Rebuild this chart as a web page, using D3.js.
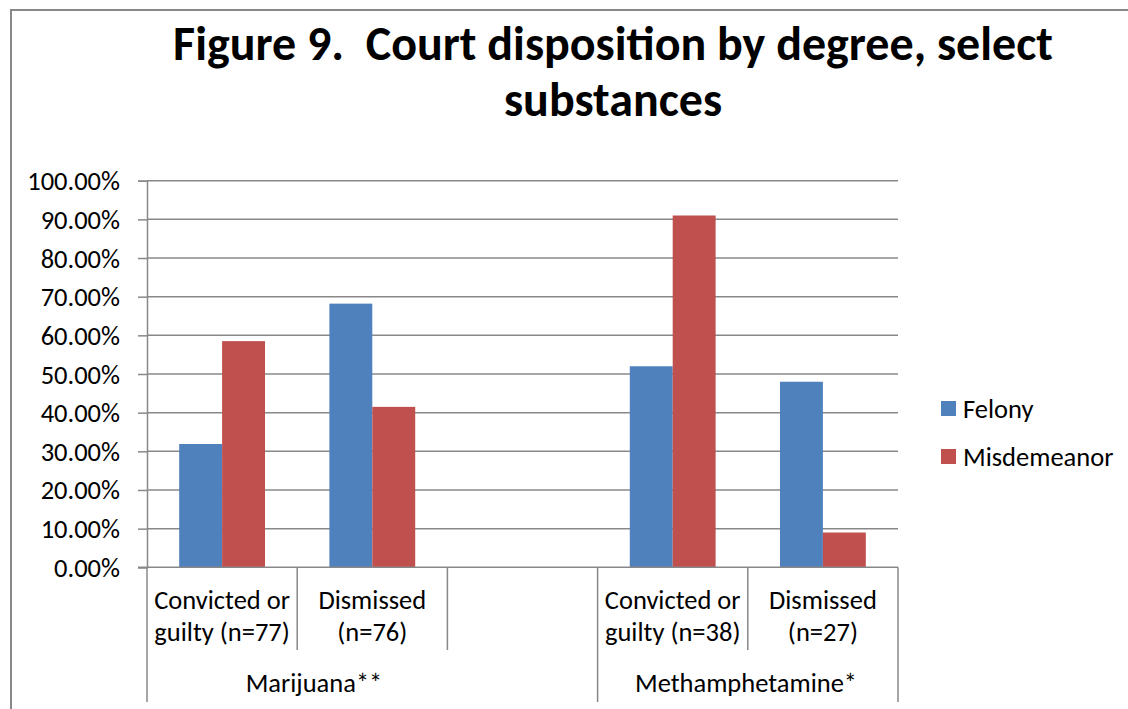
<!DOCTYPE html>
<html>
<head>
<meta charset="utf-8">
<script src="https://cdn.jsdelivr.net/npm/d3@7"></script>
<style>
  body { margin: 0; background: #fff; }
  svg text { font-family: Carlito, Calibri, Lato, sans-serif; fill: #000; white-space: pre; }
</style>
</head>
<body>
<svg id="chart" width="1128" height="709"></svg>
<script>
// data
var titleLines = ["Figure 9.  Court disposition by degree, select", "substances"];
var categories = ["mar_conv", "mar_dis", "gap", "meth_conv", "meth_dis"];
var categoryLabels = [["Convicted or", "guilty (n=77)"], ["Dismissed", "(n=76)"], ["", ""], ["Convicted or", "guilty (n=38)"], ["Dismissed", "(n=27)"]];
var groups = ["Marijuana**", "Methamphetamine*"];
var groupSpans = [[0, 3], [3, 5]]; // category index ranges
var series = ["Felony", "Misdemeanor"];
var felony = [0.319, 0.682, null, 0.520, 0.480];
var misdemeanor = [0.585, 0.415, null, 0.910, 0.090];
var yTicks = [0, 0.1, 0.2, 0.3, 0.4, 0.5, 0.6, 0.7, 0.8, 0.9, 1.0];
var colors = ["#4F81BD", "#C0504D"];

var svg = d3.select("#chart");
var gridColor = "#888888";
var fontSize = "26.5px";

var plot = {left: 147, right: 898, top: 180.7, bottom: 567.3};

var x = d3.scaleBand().domain(categories).range([plot.left, plot.right]).padding(0);
var xSub = d3.scaleBand().domain(series).range([0, x.bandwidth()]).paddingInner(0).paddingOuter(0.75);
var y = d3.scaleLinear().domain([0, 1]).range([plot.bottom, plot.top]);

// chart border (only top and left visible)
svg.append("path")
  .attr("d", "M11,712 L11,10 L1130,10")
  .attr("fill", "none").attr("stroke", gridColor).attr("stroke-width", 2);

// title
svg.append("text")
  .attr("x", 613).attr("y", 60)
  .attr("text-anchor", "middle")
  .attr("xml:space", "preserve")
  .style("font-weight", "bold").style("font-size", "48px")
  .selectAll("tspan").data(titleLines).enter().append("tspan")
  .attr("x", 613).attr("dy", function(d, i) { return i == 0 ? 0 : 56; })
  .text(function(d) { return d; });

// gridlines
svg.append("g").selectAll("line").data(yTicks.slice(1)).enter().append("line")
  .attr("x1", plot.left).attr("x2", plot.right)
  .attr("y1", function(d) { return y(d); }).attr("y2", function(d) { return y(d); })
  .attr("stroke", gridColor).attr("stroke-width", 1.5);

// y axis
var yAxis = svg.append("g")
  .attr("transform", "translate(" + plot.left + ",0)")
  .call(d3.axisLeft(y).tickValues(yTicks).tickFormat(d3.format(".2%")).tickSize(9).tickPadding(18));
yAxis.select(".domain").attr("stroke", gridColor).attr("stroke-width", 1.5);
yAxis.selectAll(".tick line").attr("stroke", gridColor).attr("stroke-width", 1.5);
yAxis.selectAll(".tick text").style("font-size", fontSize).attr("fill", "#000").attr("dy", "0.34em");

// bars
var data = [felony, misdemeanor];
series.forEach(function(s, si) {
  svg.append("g").selectAll("rect")
    .data(categories.map(function(c, ci) { return {cat: c, v: data[si][ci]}; }).filter(function(d) { return d.v != null; }))
    .enter().append("rect")
    .attr("x", function(d) { return x(d.cat) + xSub(s); })
    .attr("width", xSub.bandwidth())
    .attr("y", function(d) { return y(d.v); })
    .attr("height", function(d) { return y(0) - y(d.v); })
    .attr("fill", colors[si]);
});

// x axis line
svg.append("line")
  .attr("x1", plot.left - 9).attr("x2", plot.right)
  .attr("y1", y(0)).attr("y2", y(0))
  .attr("stroke", gridColor).attr("stroke-width", 1.5);

// category separators
var groupEdges = [];
groupSpans.forEach(function(g) { groupEdges.push(g[0]); groupEdges.push(g[1]); });
d3.range(categories.length + 1).forEach(function(i) {
  var xx = i < categories.length ? x(categories[i]) : plot.right;
  var isGroup = groupEdges.indexOf(i) >= 0;
  svg.append("line")
    .attr("x1", xx).attr("x2", xx)
    .attr("y1", y(0)).attr("y2", isGroup ? 702 : 650)
    .attr("stroke", gridColor).attr("stroke-width", 1.5);
});

// category labels
categories.forEach(function(c, i) {
  categoryLabels[i].forEach(function(line, li) {
    svg.append("text")
      .attr("x", x(c) + x.bandwidth() / 2)
      .attr("y", 609 + li * 32)
      .attr("text-anchor", "middle")
      .style("font-size", fontSize)
      .text(line);
  });
});

// group labels
var groupLabelX = [314, 746];
groups.forEach(function(g, i) {
  svg.append("text")
    .attr("x", groupLabelX[i])
    .attr("y", 692)
    .attr("text-anchor", "middle")
    .style("font-size", fontSize)
    .text(g);
});

// legend
series.forEach(function(s, i) {
  svg.append("rect")
    .attr("x", 941).attr("y", 401 + i * 48)
    .attr("width", 15).attr("height", 15)
    .attr("fill", colors[i]);
  svg.append("text")
    .attr("x", 963).attr("y", 418 + i * 48)
    .style("font-size", fontSize)
    .text(s);
});
</script>
</body>
</html>
